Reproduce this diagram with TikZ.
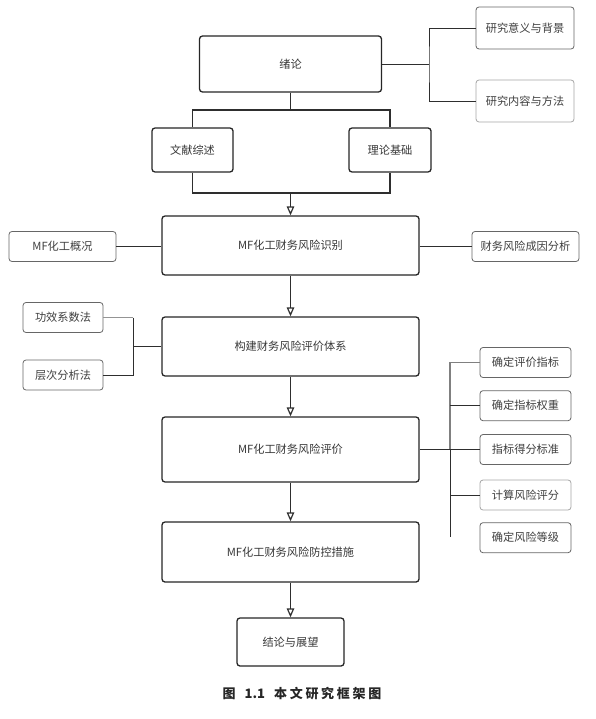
\documentclass[tikz,border=0pt]{standalone}
\usepackage{fontspec}
\setmainfont{Noto Sans CJK SC}
\usetikzlibrary{arrows.meta}
\begin{document}
\begin{tikzpicture}[x=1pt,y=-1pt,
  mainbox/.style={draw=black!85, line width=1.3pt, rounded corners=3pt, fill=white, text=black!78, font=\fontsize{11.2}{13}\selectfont, inner sep=0pt, minimum width=257pt},
  sidebox/.style={draw=black!60, line width=0.8pt, rounded corners=3pt, fill=white, text=black!75, font=\fontsize{11.2}{13}\selectfont, inner sep=0pt, minimum height=30pt},
  lightbox/.style={sidebox, draw=black!35},
  conn/.style={draw=black!82, line width=0.9pt},
  grayconn/.style={draw=black!42, line width=0.9pt},
  graythick/.style={draw=black!50, line width=1.5pt},
  arr/.style={conn, -{Triangle[open, width=7.5pt, length=9pt, line width=1.2pt]}}
]
\useasboundingbox (0,0) rectangle (595,719);

% main column
\node[mainbox, minimum width=182pt, minimum height=56pt] (xl) at (290.5,64) {绪论};
\node[mainbox, minimum width=81pt, minimum height=44pt] (wx) at (192.5,150) {文献综述};
\node[mainbox, minimum width=82pt, minimum height=44pt] (ll) at (390,150) {理论基础};
\node[mainbox, minimum height=59pt] (sb) at (290.5,245.5) {MF化工财务风险识别};
\node[mainbox, minimum height=59pt] (gj) at (290.5,346.5) {构建财务风险评价体系};
\node[mainbox, minimum height=65pt] (pj) at (290.5,449.5) {MF化工财务风险评价};
\node[mainbox, minimum height=60pt] (fk) at (290.5,552) {MF化工财务风险防控措施};
\node[mainbox, minimum width=107pt, minimum height=48pt] (jl) at (290.5,642) {结论与展望};

% side boxes
\node[sidebox, minimum width=98pt, minimum height=42pt] (yj) at (525,28) {研究意义与背景};
\node[lightbox, minimum width=98pt, minimum height=42pt] (nr) at (525,101) {研究内容与方法};
\node[sidebox, minimum width=107pt] (gk) at (62.5,246.5) {MF化工概况};
\node[sidebox, minimum width=107pt] (cy) at (525.5,246.5) {财务风险成因分析};
\node[sidebox, minimum width=80pt] (gx) at (63,317.5) {功效系数法};
\node[sidebox, minimum width=80pt] (cc) at (63,375) {层次分析法};
\node[sidebox, minimum width=91pt] (r1) at (525.5,362.5) {确定评价指标};
\node[sidebox, minimum width=91pt] (r2) at (525.5,405.7) {确定指标权重};
\node[sidebox, minimum width=91pt] (r3) at (525.5,449.5) {指标得分标准};
\node[lightbox, minimum width=91pt] (r4) at (525.5,495) {计算风险评分};
\node[sidebox, minimum width=91pt] (r5) at (525.5,537.7) {确定风险等级};

% coordinates
\coordinate (b1) at (429,64);
\coordinate (t1) at (290.5,110);
\coordinate (t2) at (290.5,193);
\coordinate (lb) at (133,346.5);
\coordinate (rb) at (450,449.5);
\coordinate (rbend) at (450,537.3);

% top right bracket
\draw[conn] (xl.east) -- (b1);
\draw[conn] (yj.west) -| (b1) |- (nr.west);

% top split
\draw[conn] (xl.south) -- (t1);
\draw[conn, line width=1.2pt] (wx.north) -- (wx.north |- t1) -- (ll.north |- t1) -- (ll.north);
\draw[conn, line width=1.2pt] (wx.south) -- (wx.south |- t2) -- (ll.south |- t2) -- (ll.south);
\draw[arr] (t2) -- (sb.north);

% identification side lines
\draw[conn] (gk.east) -- (gk.east -| sb.west);
\draw[conn] (cy.west -| sb.east) -- (cy.west);

% main arrows
\draw[arr] (sb.south) -- (gj.north);
\draw[arr] (gj.south) -- (pj.north);
\draw[arr] (pj.south) -- (fk.north);
\draw[arr] (fk.south) -- (jl.north);

% left bracket
\draw[grayconn] (gx.east) -- (gx.east -| lb);
\draw[conn] (gx.east -| lb) -- (cc.east -| lb) -- (cc.east);
\draw[conn] (lb) -- (gj.west);

% right bracket
\draw[graythick] (r1.west) -- (r1.west -| rb) -- (rb);
\draw[conn] (rb) -- (rbend);
\draw[conn] (pj.east) -- (r3.west);
\draw[conn] (r2.west) -- (r2.west -| rb);
\draw[conn] (r4.west) -- (r4.west -| rb);

% caption
\node[font=\fontsize{13}{15}\selectfont\bfseries, text=black!85, inner sep=0pt] (cap) at (302,694) {图\hspace{9pt}1.1\hspace{9pt}本\kern2.7pt 文\kern2.7pt 研\kern2.7pt 究\kern2.7pt 框\kern2.7pt 架\kern2.7pt 图};
\end{tikzpicture}
\end{document}
